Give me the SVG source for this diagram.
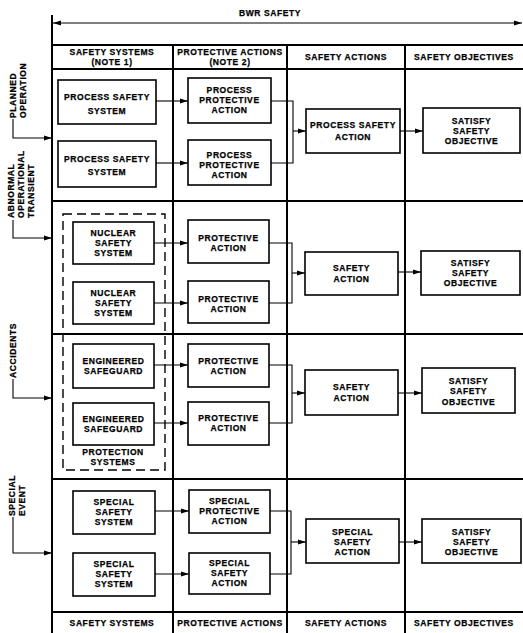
<svg xmlns="http://www.w3.org/2000/svg" width="523" height="633" viewBox="0 0 523 633">
<style>
.t{font-family:"Liberation Sans",Arial,sans-serif;font-weight:bold;font-size:8.5px;letter-spacing:0.6px;text-anchor:middle;fill:#000;stroke:#000;stroke-width:0.25}
.l{text-anchor:start}
.box{fill:#fff;stroke:#000;stroke-width:1.6}
.dash{fill:none;stroke:#000;stroke-width:1.4;stroke-dasharray:9,5}
.grid{stroke:#000;stroke-width:2;fill:none}
.conn{stroke:#000;stroke-width:1.1;fill:none}
.arr{marker-end:url(#ah)}
</style>
<defs>
<marker id="ah" viewBox="0 0 8 6" refX="8" refY="3" markerWidth="8" markerHeight="6" markerUnits="userSpaceOnUse" orient="auto-start-reverse">
<path d="M0,0.5 L8,3 L0,5.5 z" fill="#000"/>
</marker>
</defs>
<rect width="523" height="633" fill="#fff"/>

<g id="grid">
<path class="grid" d="M52,15 V633 M173,45 V633 M287,45 V633 M405,45 V633"/>
<path class="grid" d="M52,45 H523 M52,69 H523 M52,201 H523 M52,334 H523 M52,479 H523 M52,612 H523"/>
</g>

<g id="title">
<path class="conn" d="M53,23 H522" marker-start="url(#ah)" marker-end="url(#ah)"/>
<text class="t" x="270" y="16">BWR SAFETY</text>
</g>

<g id="header">
<text class="t" x="112" y="54.5">SAFETY SYSTEMS</text>
<text class="t" x="112" y="64.5">(NOTE 1)</text>
<text class="t" x="230" y="54.5">PROTECTIVE ACTIONS</text>
<text class="t" x="230" y="64.5">(NOTE 2)</text>
<text class="t" x="346" y="60">SAFETY ACTIONS</text>
<text class="t" x="464" y="60">SAFETY OBJECTIVES</text>
</g>

<g id="footer">
<text class="t" x="112" y="626">SAFETY SYSTEMS</text>
<text class="t" x="230" y="626">PROTECTIVE ACTIONS</text>
<text class="t" x="346" y="626">SAFETY ACTIONS</text>
<text class="t" x="464" y="626">SAFETY OBJECTIVES</text>
</g>

<g id="lbl-planned">
<text class="t l" transform="translate(16,118) rotate(-90)">PLANNED</text>
<text class="t l" transform="translate(26,118) rotate(-90)">OPERATION</text>
</g>
<g id="lbl-abnormal">
<text class="t l" transform="translate(13.5,218) rotate(-90)">ABNORMAL</text>
<text class="t l" transform="translate(23.5,218) rotate(-90)">OPERATIONAL</text>
<text class="t l" transform="translate(33.5,218) rotate(-90)">TRANSIENT</text>
</g>
<g id="lbl-accidents">
<text class="t l" transform="translate(16,378) rotate(-90)">ACCIDENTS</text>
</g>
<g id="lbl-special">
<text class="t l" transform="translate(15,516) rotate(-90)">SPECIAL</text>
<text class="t l" transform="translate(25,516) rotate(-90)">EVENT</text>
</g>

<g id="protection-systems">
<rect class="dash" x="63" y="214" width="102" height="256"/>
<text class="t" x="113" y="455">PROTECTION</text>
<text class="t" x="113" y="465">SYSTEMS</text>
</g>

<g id="r1s1"><rect class="box" x="58" y="80" width="98" height="44"/>
<text class="t" x="107" y="100">PROCESS SAFETY</text><text class="t" x="107" y="114">SYSTEM</text></g>
<g id="r1s2"><rect class="box" x="58" y="141" width="98" height="46"/>
<text class="t" x="107" y="162">PROCESS SAFETY</text><text class="t" x="107" y="175">SYSTEM</text></g>
<g id="r1p1"><rect class="box" x="188" y="78" width="83" height="45"/>
<text class="t" x="229.5" y="93">PROCESS</text><text class="t" x="229.5" y="103">PROTECTIVE</text><text class="t" x="229.5" y="113">ACTION</text></g>
<g id="r1p2"><rect class="box" x="188" y="140" width="83" height="45"/>
<text class="t" x="229.5" y="158">PROCESS</text><text class="t" x="229.5" y="168">PROTECTIVE</text><text class="t" x="229.5" y="178">ACTION</text></g>
<g id="r1a"><rect class="box" x="306" y="109" width="94" height="44"/>
<text class="t" x="353" y="128">PROCESS SAFETY</text><text class="t" x="353" y="140">ACTION</text></g>
<g id="r1o"><rect class="box" x="423" y="108" width="97" height="45"/>
<text class="t" x="471.5" y="123.5">SATISFY</text><text class="t" x="471.5" y="133.5">SAFETY</text><text class="t" x="471.5" y="144">OBJECTIVE</text></g>

<g id="r2s1"><rect class="box" x="73" y="222" width="81" height="42"/>
<text class="t" x="113.5" y="236">NUCLEAR</text><text class="t" x="113.5" y="246">SAFETY</text><text class="t" x="113.5" y="256">SYSTEM</text></g>
<g id="r2s2"><rect class="box" x="73" y="282" width="81" height="42"/>
<text class="t" x="113.5" y="296">NUCLEAR</text><text class="t" x="113.5" y="306">SAFETY</text><text class="t" x="113.5" y="316">SYSTEM</text></g>
<g id="r2p1"><rect class="box" x="188" y="220" width="81" height="43"/>
<text class="t" x="228.5" y="240.5">PROTECTIVE</text><text class="t" x="228.5" y="250.5">ACTION</text></g>
<g id="r2p2"><rect class="box" x="188" y="281" width="81" height="42"/>
<text class="t" x="228.5" y="301.5">PROTECTIVE</text><text class="t" x="228.5" y="311.5">ACTION</text></g>
<g id="r2a"><rect class="box" x="305" y="252" width="93" height="43"/>
<text class="t" x="351.5" y="271">SAFETY</text><text class="t" x="351.5" y="282">ACTION</text></g>
<g id="r2o"><rect class="box" x="421" y="251" width="99" height="44"/>
<text class="t" x="470.5" y="266">SATISFY</text><text class="t" x="470.5" y="276">SAFETY</text><text class="t" x="470.5" y="286">OBJECTIVE</text></g>

<g id="r3s1"><rect class="box" x="73" y="344" width="81" height="44"/>
<text class="t" x="113.5" y="364">ENGINEERED</text><text class="t" x="113.5" y="374">SAFEGUARD</text></g>
<g id="r3s2"><rect class="box" x="73" y="403" width="81" height="42"/>
<text class="t" x="113.5" y="422">ENGINEERED</text><text class="t" x="113.5" y="432">SAFEGUARD</text></g>
<g id="r3p1"><rect class="box" x="188" y="344" width="81" height="43"/>
<text class="t" x="228.5" y="364">PROTECTIVE</text><text class="t" x="228.5" y="374">ACTION</text></g>
<g id="r3p2"><rect class="box" x="188" y="402" width="81" height="43"/>
<text class="t" x="228.5" y="421">PROTECTIVE</text><text class="t" x="228.5" y="431">ACTION</text></g>
<g id="r3a"><rect class="box" x="305" y="370" width="93" height="45"/>
<text class="t" x="351.5" y="390">SAFETY</text><text class="t" x="351.5" y="401">ACTION</text></g>
<g id="r3o"><rect class="box" x="422" y="368" width="93" height="45"/>
<text class="t" x="468.5" y="384">SATISFY</text><text class="t" x="468.5" y="394">SAFETY</text><text class="t" x="468.5" y="405">OBJECTIVE</text></g>

<g id="r4s1"><rect class="box" x="73" y="491" width="82" height="43"/>
<text class="t" x="114" y="505">SPECIAL</text><text class="t" x="114" y="515">SAFETY</text><text class="t" x="114" y="525">SYSTEM</text></g>
<g id="r4s2"><rect class="box" x="73" y="553" width="82" height="43"/>
<text class="t" x="114" y="567">SPECIAL</text><text class="t" x="114" y="577">SAFETY</text><text class="t" x="114" y="587">SYSTEM</text></g>
<g id="r4p1"><rect class="box" x="189" y="490" width="81" height="43"/>
<text class="t" x="229.5" y="504">SPECIAL</text><text class="t" x="229.5" y="514">PROTECTIVE</text><text class="t" x="229.5" y="524">ACTION</text></g>
<g id="r4p2"><rect class="box" x="189" y="553" width="81" height="41"/>
<text class="t" x="229.5" y="566">SPECIAL</text><text class="t" x="229.5" y="576">SAFETY</text><text class="t" x="229.5" y="586">ACTION</text></g>
<g id="r4a"><rect class="box" x="306" y="519" width="93" height="44"/>
<text class="t" x="352.5" y="535">SPECIAL</text><text class="t" x="352.5" y="545">SAFETY</text><text class="t" x="352.5" y="555">ACTION</text></g>
<g id="r4o"><rect class="box" x="422" y="519" width="99" height="44"/>
<text class="t" x="471.5" y="535">SATISFY</text><text class="t" x="471.5" y="545">SAFETY</text><text class="t" x="471.5" y="555">OBJECTIVE</text></g>

<g id="connectors">
<path class="conn arr" d="M13,119 V138 H52"/>
<path class="conn arr" d="M13,220 V238 H52"/>
<path class="conn arr" d="M13,379 V398 H52"/>
<path class="conn arr" d="M13,517 V553 H52"/>

<path class="conn arr" d="M156,101 H188"/>
<path class="conn arr" d="M156,163 H188"/>
<path class="conn" d="M271,101 H293 V163 H271"/>
<path class="conn arr" d="M293,131 H306"/>
<path class="conn arr" d="M400,131 H423"/>

<path class="conn arr" d="M154,243 H188"/>
<path class="conn arr" d="M154,303 H188"/>
<path class="conn" d="M269,243 H292 V303 H269"/>
<path class="conn arr" d="M292,273 H305"/>
<path class="conn arr" d="M398,272 H421"/>

<path class="conn arr" d="M154,365 H188"/>
<path class="conn arr" d="M154,423 H188"/>
<path class="conn" d="M269,365 H292 V423 H269"/>
<path class="conn arr" d="M292,393 H305"/>
<path class="conn arr" d="M398,393 H422"/>

<path class="conn arr" d="M155,511 H189"/>
<path class="conn arr" d="M155,574 H189"/>
<path class="conn" d="M270,511 H291 V574 H270"/>
<path class="conn arr" d="M291,542 H306"/>
<path class="conn arr" d="M399,542 H422"/>
</g>
</svg>
